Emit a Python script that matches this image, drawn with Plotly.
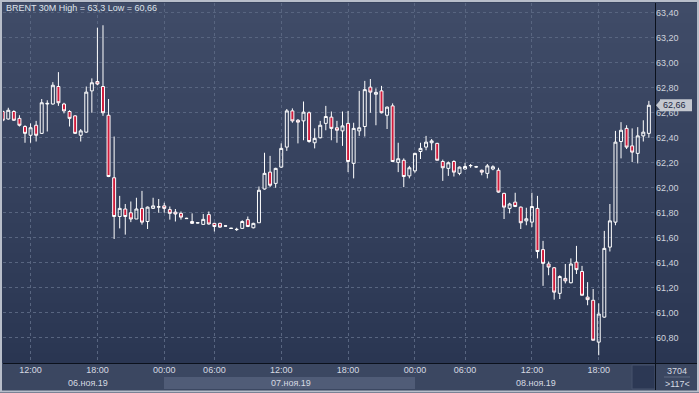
import plotly.graph_objects as go

# ---------------- data (30-minute Brent candles) ----------------
opens = [62.61, 62.55, 62.61, 62.555, 62.49, 62.42, 62.50, 62.435, 62.67, 62.67,
         62.81, 62.67, 62.61, 62.575, 62.42, 62.445, 62.775, 62.85, 62.81, 62.58,
         62.08, 61.77, 61.83, 61.80, 61.75, 61.835, 61.73, 61.835, 61.845, 61.855,
         61.825, 61.805, 61.795, 61.753, 61.73, 61.718, 61.707, 61.785, 61.715, 61.715,
         61.693, 61.674, 61.665, 61.675, 61.745, 61.68, 61.72, 61.99, 62.125, 62.035,
         62.165, 62.325, 62.615, 62.54, 62.535, 62.60, 62.36, 62.40, 62.515, 62.565,
         62.48, 62.455, 62.515, 62.195, 62.455, 62.49, 62.805, 62.748, 62.775, 62.58,
         62.655, 62.203, 62.22, 62.095, 62.135, 62.29, 62.325, 62.36, 62.355, 62.21,
         62.155, 62.21, 62.115, 62.15, 62.176, 62.166, 62.14, 62.115, 62.15, 62.14,
         61.955, 61.835, 61.885, 61.845, 61.735, 61.725, 61.835, 61.505, 61.39, 61.36,
         61.155, 61.275, 61.24, 61.405, 61.33, 61.125, 61.10, 60.765, 60.965, 61.525,
         61.725, 62.37, 62.475, 62.335, 62.275, 62.415, 62.435]
highs = [62.62, 62.64, 62.62, 62.58, 62.50, 62.515, 62.535, 62.71, 62.70, 62.845,
         62.925, 62.68, 62.62, 62.58, 62.47, 62.81, 62.875, 63.28, 63.30, 62.71,
         62.41, 61.935, 61.87, 61.89, 61.92, 61.975, 61.85, 61.92, 61.91, 61.88,
         61.85, 61.83, 61.81, 61.76, 61.795, 61.725, 61.79, 61.81, 61.72, 61.72,
         61.70, 61.68, 61.68, 61.74, 61.77, 61.72, 62.01, 62.28, 62.255, 62.16,
         62.355, 62.63, 62.635, 62.55, 62.69, 62.61, 62.475, 62.535, 62.655, 62.61,
         62.535, 62.61, 62.615, 62.52, 62.775, 62.855, 62.87, 62.795, 62.815, 62.65,
         62.675, 62.36, 62.235, 62.175, 62.28, 62.36, 62.415, 62.39, 62.36, 62.225,
         62.21, 62.22, 62.17, 62.20, 62.19, 62.175, 62.145, 62.19, 62.18, 62.16,
         61.96, 61.88, 61.96, 61.85, 61.84, 61.96, 61.935, 61.575, 61.41, 61.365,
         61.30, 61.39, 61.435, 61.535, 61.375, 61.245, 61.19, 61.075, 61.655, 61.87,
         62.455, 62.525, 62.50, 62.475, 62.485, 62.54, 62.695]
lows = [62.53, 62.545, 62.535, 62.49, 62.36, 62.36, 62.37, 62.43, 62.45, 62.665,
        62.655, 62.595, 62.49, 62.43, 62.37, 62.44, 62.60, 62.82, 62.575, 62.085,
        61.59, 61.675, 61.625, 61.725, 61.75, 61.705, 61.67, 61.83, 61.80, 61.80,
        61.745, 61.73, 61.745, 61.75, 61.71, 61.715, 61.705, 61.705, 61.65, 61.68,
        61.69, 61.672, 61.655, 61.67, 61.685, 61.675, 61.72, 61.985, 62.005, 62.0,
        62.16, 62.295, 62.52, 62.355, 62.38, 62.36, 62.315, 62.395, 62.46, 62.38,
        62.36, 62.335, 62.125, 62.075, 62.415, 62.41, 62.60, 62.50, 62.595, 62.47,
        62.205, 62.125, 62.005, 62.075, 62.12, 62.23, 62.30, 62.30, 62.22, 62.055,
        62.095, 62.09, 62.10, 62.145, 62.16, 62.16, 62.10, 62.075, 62.14, 61.96,
        61.75, 61.795, 61.845, 61.67, 61.70, 61.685, 61.435, 61.215, 61.30, 61.105,
        61.11, 61.235, 61.235, 61.31, 61.14, 61.06, 60.78, 60.66, 60.96, 61.49,
        61.70, 62.235, 62.31, 62.205, 62.195, 62.37, 62.40]
closes = [62.54, 62.62, 62.54, 62.50, 62.435, 62.48, 62.42, 62.68, 62.675, 62.82,
          62.68, 62.615, 62.555, 62.435, 62.455, 62.765, 62.84, 62.83, 62.60, 62.09,
          61.77, 61.835, 61.77, 61.75, 61.83, 61.725, 61.845, 61.855, 61.848, 61.835,
          61.795, 61.79, 61.765, 61.755, 61.715, 61.72, 61.747, 61.71, 61.69, 61.685,
          61.695, 61.676, 61.667, 61.73, 61.69, 61.715, 61.98, 62.115, 62.02, 62.155,
          62.315, 62.615, 62.535, 62.525, 62.605, 62.37, 62.395, 62.50, 62.57, 62.475,
          62.46, 62.495, 62.21, 62.475, 62.48, 62.785, 62.765, 62.763, 62.60, 62.645,
          62.21, 62.232, 62.09, 62.16, 62.275, 62.315, 62.365, 62.375, 62.22, 62.16,
          62.20, 62.125, 62.165, 62.17, 62.178, 62.168, 62.125, 62.175, 62.168, 61.965,
          61.845, 61.87, 61.85, 61.72, 61.752, 61.85, 61.49, 61.395, 61.365, 61.165,
          61.29, 61.255, 61.39, 61.345, 61.14, 61.105, 60.78, 60.99, 61.515, 61.735,
          62.365, 62.46, 62.325, 62.285, 62.415, 62.445, 62.66]

time_tick_pos = [5, 17, 29, 38, 50, 62, 74, 83, 95, 107]
time_tick_labels = ["12:00", "18:00", "00:00", "06:00", "12:00",
                    "18:00", "00:00", "06:00", "12:00", "18:00"]
date_labels = ["06.ноя.19", "07.ноя.19", "08.ноя.19"]
date_label_pos = [15.3, 51.7, 95.8]
price_ticks = [60.8, 61.0, 61.2, 61.4, 61.6, 61.8, 62.0, 62.2, 62.4, 62.6, 62.8, 63.0, 63.2, 63.4]
last_price = 62.66
title_text = "BRENT 30M High = 63,3 Low = 60,66"
bar_count_text = "3704"
visible_bars_text = ">117<"

# ---------------- geometry helpers (pixels -> paper) ----------------
W, H = 699, 393
L, R, T, B = 3, 44, 3, 30
PW, PH = W - L - R, H - T - B
Y0, Y1 = 60.598, 63.478


def px(x):
    return (x - L) / PW


def py(y):
    return (H - B - y) / PH


FONT = "Liberation Sans, Arial, sans-serif"
n = len(opens)
xs = list(range(n))

fig = go.Figure()
fig.add_trace(go.Candlestick(
    x=xs, open=opens, high=highs, low=lows, close=closes,
    increasing=dict(line=dict(color="#ffffff", width=1), fillcolor="rgba(0,0,0,0)"),
    decreasing=dict(line=dict(color="#ffffff", width=1), fillcolor="#d01c3c"),
    whiskerwidth=0, hoverinfo="skip", showlegend=False,
))

shapes = []
# vertical gradient background of plot + price column
top_c = (64, 76, 104)
bot_c = (42, 54, 82)
steps = 36
for k in range(steps):
    y0 = T + k * (PH / steps)
    y1 = T + (k + 1) * (PH / steps)
    f = (k + 0.5) / steps
    c = tuple(round(top_c[j] + (bot_c[j] - top_c[j]) * f) for j in range(3))
    shapes.append(dict(type="rect", xref="paper", yref="paper",
                       x0=px(0), x1=px(W), y0=py(y0), y1=py(y1 + 0.5),
                       fillcolor="rgb(%d,%d,%d)" % c, line=dict(width=0), layer="below"))
# bottom time strip
shapes.append(dict(type="rect", xref="paper", yref="paper", x0=px(0), x1=px(W),
                   y0=py(363), y1=py(H), fillcolor="rgb(59,71,97)", line=dict(width=0), layer="below"))
# lighter band under middle day
shapes.append(dict(type="rect", xref="paper", yref="paper", x0=px(164), x1=px(415),
                   y0=py(377), y1=py(389), fillcolor="rgb(80,92,119)", line=dict(width=0), layer="below"))
# dark box at end of strip
shapes.append(dict(type="rect", xref="paper", yref="paper", x0=px(632), x1=px(655),
                   y0=py(365), y1=py(389), fillcolor="rgb(44,56,84)",
                   line=dict(width=1, color="rgb(70,82,108)"), layer="below"))
# small separator in the right corner box
shapes.append(dict(type="line", xref="paper", yref="paper", x0=px(664), x1=px(690),
                   y0=py(377), y1=py(377), line=dict(width=1, color="rgb(95,106,130)"), layer="below"))
# black axis lines
shapes.append(dict(type="line", xref="paper", yref="paper", x0=px(655.5), x1=px(655.5),
                   y0=py(T), y1=py(390), line=dict(width=1, color="#0b111c"), layer="above"))
shapes.append(dict(type="line", xref="paper", yref="paper", x0=px(L), x1=px(W),
                   y0=py(363.5), y1=py(363.5), line=dict(width=1, color="#0b111c"), layer="above"))
# outer light frame
shapes.append(dict(type="rect", xref="paper", yref="paper", x0=px(1), x1=px(W - 1),
                   y0=py(1), y1=py(H - 1.5), fillcolor="rgba(0,0,0,0)",
                   line=dict(width=2, color="rgb(184,190,202)"), layer="above"))
# last-price marker (box with arrow)
lp_y = (H - B) - (last_price - Y0) / (Y1 - Y0) * PH
shapes.append(dict(type="rect", xref="paper", yref="paper", x0=px(660), x1=px(692),
                   y0=py(lp_y - 6), y1=py(lp_y + 6), fillcolor="rgb(196,200,208)",
                   line=dict(width=0), layer="above"))
shapes.append(dict(type="path", xref="paper", yref="paper",
                   path="M %f %f L %f %f L %f %f Z" % (px(656), py(lp_y), px(660.2), py(lp_y - 5),
                                                     px(660.2), py(lp_y + 5)),
                   fillcolor="rgb(196,200,208)", line=dict(width=0), layer="above"))

annotations = [
    dict(text=title_text, xref="paper", yref="paper", x=px(4), y=py(8.5),
         xanchor="left", yanchor="middle", showarrow=False,
         font=dict(family=FONT, size=9, color="#dfe3ea")),
    dict(text="62,66", xref="paper", yref="paper", x=px(661), y=py(lp_y),
         xanchor="left", yanchor="middle", showarrow=False,
         font=dict(family=FONT, size=9, color="#1d2842")),
    dict(text=bar_count_text, xref="paper", yref="paper", x=px(677), y=py(370.5),
         xanchor="center", yanchor="middle", showarrow=False,
         font=dict(family=FONT, size=9, color="#d6dae2")),
    dict(text=visible_bars_text, xref="paper", yref="paper", x=px(677), y=py(383.5),
         xanchor="center", yanchor="middle", showarrow=False,
         font=dict(family=FONT, size=9, color="#d6dae2")),
]
for lbl, pos in zip(date_labels, date_label_pos):
    annotations.append(dict(text=lbl, xref="x", yref="paper", x=pos, y=py(383),
                            xanchor="center", yanchor="middle", showarrow=False,
                            font=dict(family=FONT, size=9, color="#d6dae2")))

fig.update_layout(
    width=W, height=H,
    margin=dict(l=L, r=R, t=T, b=B, pad=0, autoexpand=False),
    paper_bgcolor="rgb(56,68,94)",
    plot_bgcolor="rgba(0,0,0,0)",
    showlegend=False,
    hovermode=False,
    boxgap=0.24,
    shapes=shapes,
    annotations=annotations,
    font=dict(family=FONT, size=9, color="#d6dae2"),
    xaxis=dict(
        range=[0.05, 117.1], rangeslider=dict(visible=False),
        tickmode="array", tickvals=time_tick_pos, ticktext=time_tick_labels,
        showgrid=True, gridcolor="rgb(88,101,128)", griddash="dot", gridwidth=1,
        zeroline=False, showline=False, ticks="",
        tickfont=dict(family=FONT, size=9, color="#d6dae2"),
    ),
    yaxis=dict(
        range=[Y0, Y1], side="right",
        tickmode="array", tickvals=price_ticks,
        ticktext=[("%.2f" % v).replace(".", ",") for v in price_ticks],
        showgrid=True, gridcolor="rgb(88,101,128)", griddash="dot", gridwidth=1,
        zeroline=False, showline=False, ticks="",
        tickfont=dict(family=FONT, size=9, color="#cfd3dc"),
    ),
)

fig.write_html(
    "out.html",
    config=dict(displayModeBar=False),
    post_script="document.body.style.margin='0';document.body.style.overflow='hidden';",
)
